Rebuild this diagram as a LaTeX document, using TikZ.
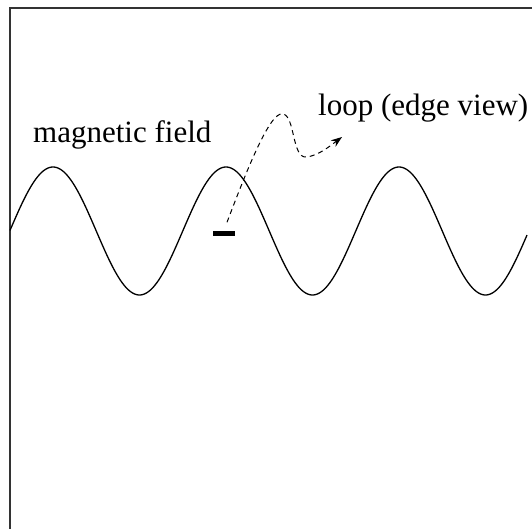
\documentclass[tikz,border=0pt]{standalone}
\usepackage{fontspec}
\setmainfont{Liberation Serif}
\usetikzlibrary{arrows.meta}
\tikzset{
  lbl/.style={anchor=base west, inner sep=0pt, font=\fontsize{31}{37}\selectfont},
  wave/.style={line width=1.3pt, black},
  frameline/.style={line width=1.1pt, black!80},
  loopbar/.style={fill=black, inner sep=0pt, minimum width=22pt, minimum height=5pt},
  flux/.style={dashed, dash pattern=on 5pt off 4pt, line width=1pt, -{Stealth[length=11pt,width=8pt]}}
}
\begin{document}
\begin{tikzpicture}[x=1pt,y=-1pt]
\useasboundingbox (0,0) rectangle (532,529);
\draw[frameline] (532,8) -- (10,8) -- (10,529);
\draw[wave] plot[domain=10:527, samples=300, smooth] (\x, {231-64*sin(2.08092*(\x-9.75))});
\node[lbl] (mf) at (33,143) {magnetic field};
\node[lbl] (lv) at (318,116) {loop (edge view)};
\node[loopbar] (bar) at (224,233) {};
\coordinate (s) at ([xshift=3pt,yshift=8pt]bar.north);
\coordinate (tip) at (342,137);
\draw[flux] (s) .. controls (245,175) and (270,110) .. (283,114)
  .. controls (295,116) and (292,158) .. (306,157)
  .. controls (318,156) and (330,146) .. (tip);
\end{tikzpicture}
\end{document}
